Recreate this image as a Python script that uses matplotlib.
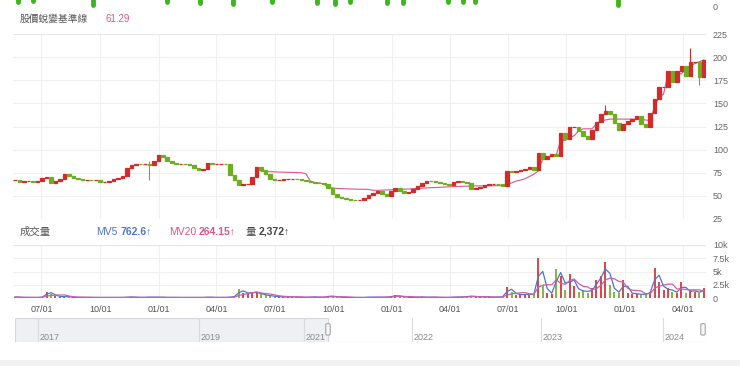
import numpy as np
import pandas as pd
import matplotlib
matplotlib.use('Agg')
import matplotlib.pyplot as plt
from matplotlib.patches import Rectangle, FancyBboxPatch

plt.rcParams['font.family'] = ['Liberation Sans', 'Noto Sans CJK TC', 'DejaVu Sans']

W, H = 740, 366

# weekly samples
week_dates = pd.date_range('2021-05-21', periods=155, freq='W-FRI')

close = [67, 64.5, 66, 66, 65, 66, 69, 70, 64, 65.7,
         68.5, 73.6, 71, 69, 68, 67.5, 67.5, 67, 67, 65,
         65, 66, 68, 69.5, 72, 80, 83, 84.5, 84, 84,
         83, 88, 94, 92, 88, 86, 85, 85, 84.5, 83,
         80, 78.5, 78.6, 86, 84.5, 84.5, 84.5, 84, 73, 67.5,
         62, 62.5, 63, 70, 81, 78, 73.5, 68, 67.4, 67.4,
         68, 68.5, 68.5, 68, 67, 66, 64.5, 64, 63.5, 63,
         58, 52, 49, 47.5, 46.4, 46, 45.4, 46, 48, 51,
         53, 55.4, 51.5, 50, 55, 58, 55.5, 52.6, 54.5, 57,
         61, 64, 66.5, 66, 65, 63.5, 62.5, 62, 65, 66.5,
         64.5, 63.6, 57.5, 58.5, 60, 61.5, 63, 63, 62.7, 61,
         77, 75.5, 76.5, 78, 79.5, 81, 78, 96, 90, 93,
         95, 93.5, 118, 111, 124, 124, 120, 115, 111, 121,
         130, 139, 142, 139, 129, 121, 128, 131, 133, 136,
         128, 125, 140, 155, 168, 168, 185, 173, 185, 190,
         180, 195, 195, 178, 197]

# a few long wicks
wick_idx = [30, 132, 151, 153]
wick_low = [67, 139, 190, 170]
wick_high = [88, 148, 210, 180]

baseline = [np.nan] * 55 + [
    76.5, 76.3, 76.2, 76, 75.8, 75.6, 75.5, 75.3, 75.2, 75,
    74, 66, 64.5, 64, 63, 59, 58.5, 58, 57.8, 57.5,
    57.4, 57.3, 57.2, 57.1, 57, 56, 56, 56.2, 56.4, 56.6,
    56.8, 57, 57.2, 57.4, 57.8, 58, 58.3, 58.6, 58.9, 59,
    59.3, 59.6, 59.8, 60, 60.2, 60.4, 60.6, 60.7, 60.8, 60.9,
    61, 61, 61, 61, 61, 62, 64, 66, 67, 68.5,
    71, 73.5, 77, 90, 91.6, 93, 94, 110, 110, 113,
    115, 120, 122.5, 122.5, 122.5, 128, 131.5, 132, 133, 133,
    133, 133, 133, 133, 133, 133, 132, 131.5, 146, 157,
    160, 182, 182, 182, 182, 187, 191, 193, 195, 197]

volume_k = [0.2, 0.1, 0.1, 0.1, 0.1, 0.1, 0.2, 1.2, 0.8, 0.4,
            0.2, 0.3, 0.2, 0.1, 0.1, 0.1, 0.1, 0.1, 0.1, 0.1,
            0.1, 0.1, 0.1, 0.1, 0.1, 0.2, 0.2, 0.1, 0.1, 0.1,
            0.2, 0.1, 0.2, 0.1, 0.1, 0.1, 0.1, 0.1, 0.1, 0.1,
            0.1, 0.1, 0.1, 0.2, 0.1, 0.1, 0.1, 0.1, 0.2, 0.3,
            1.7, 1.0, 0.9, 1.1, 1.0, 0.7, 0.5, 0.4, 0.3, 0.2,
            0.2, 0.2, 0.2, 0.2, 0.1, 0.1, 0.2, 0.2, 0.1, 0.2,
            0.4, 0.3, 0.2, 0.1, 0.1, 0.1, 0.1, 0.1, 0.1, 0.2,
            0.1, 0.2, 0.1, 0.2, 0.3, 0.5, 0.3, 0.2, 0.1, 0.1,
            0.2, 0.2, 0.1, 0.2, 0.1, 0.1, 0.1, 0.1, 0.2, 0.2,
            0.2, 0.3, 0.4, 0.2, 0.2, 0.2, 0.2, 0.1, 0.2, 0.3,
            2.1, 1.2, 0.6, 0.7, 0.6, 0.8, 0.7, 7.5, 2.5, 1.0,
            0.8, 5.4, 4.2, 1.5, 4.5, 2.3, 1.2, 1.5, 1.0, 1.8,
            3.4, 4.2, 6.8, 2.5, 1.2, 1.0, 3.4, 1.0, 0.8, 0.8,
            0.6, 0.8, 1.2, 5.6, 3.0, 1.5, 1.8, 1.2, 1.0, 3.0,
            1.0, 1.5, 1.2, 1.0, 1.8]

price_ticks = [25, 50, 75, 100, 125, 150, 175, 200, 225]
vol_ticks = [0, 2.5, 5, 7.5, 10]
vol_tick_labels = ['0', '2.5k', '5k', '7.5k', '10k']

# green marks hanging from the panel above (index position, depth in px)
top_blob_idx = [0.7, 4, 17.4, 34, 41.4, 48.8, 57.5, 67.6, 71.6, 74.9, 83.2, 86.8, 96.9, 100.2, 102.9, 134.9]
top_blob_depth = [2, 1, 5, 2, 3, 4, 2, 3, 4, 2, 3, 3, 2, 2, 2, 5]

slider_years = ['2017', '2019', '2021', '2022', '2023', '2024']
slider_year_pos = [23, 184, 289, 397, 526, 648]
slider_sel_start = 313

RED = '#d42a2a'
GREEN = '#6fae22'
PINK = '#d9578a'
BLUE = '#4f74d0'
GRID = '#f0f0f0'
TXT = '#666666'


def px_axes(fig, l, t, r, b):
    return fig.add_axes([l / W, 1 - b / H, (r - l) / W, (b - t) / H])


def clean(ax):
    for s in ax.spines.values():
        s.set_visible(False)
    ax.tick_params(length=0)


fig = plt.figure(figsize=(W / 100, H / 100), dpi=100)

n = len(close)
x = np.arange(n)
close_a = np.array(close, dtype=float)
open_a = np.concatenate([[close_a[0]], close_a[:-1]])
up = close_a >= open_a
cols = np.where(up, RED, GREEN)

qdates = pd.date_range('2021-07-01', '2024-04-01', freq='QS')
qpos = [(d - week_dates[0]).days / 7 for d in qdates]
qlabels = [d.strftime('%m/%d') for d in qdates]

# price panel
ax = px_axes(fig, 13, 34, 706, 219)
clean(ax)
ax.set_xlim(-0.5, n - 0.5)
ax.set_ylim(25, 225)
ax.set_yticks(price_ticks)
ax.yaxis.tick_right()
ax.tick_params(axis='y', labelsize=6.5, labelcolor=TXT, pad=5)
ax.set_xticks(qpos)
ax.set_xticklabels([])
ax.grid(True, color=GRID, lw=0.8)
ax.set_axisbelow(True)
ax.axhline(225, color='#e6e6e6', lw=0.8)
ax.vlines(wick_idx, wick_low, wick_high, colors=[cols[i] for i in wick_idx], lw=0.8, zorder=2)
ax.bar(x, close_a - open_a, bottom=open_a, width=0.8, color=cols, edgecolor=cols, lw=0.9, zorder=3)
ax.plot(x, baseline, color=PINK, lw=0.8, zorder=2)

# volume panel
av = px_axes(fig, 13, 245, 706, 298)
clean(av)
av.set_xlim(-0.5, n - 0.5)
av.set_ylim(0, 10)
av.set_yticks(vol_ticks)
av.set_yticklabels(vol_tick_labels)
av.yaxis.tick_right()
av.tick_params(axis='y', labelsize=6.5, labelcolor=TXT, pad=5)
av.set_xticks(qpos)
av.set_xticklabels(qlabels)
av.tick_params(axis='x', labelsize=6.5, labelcolor='#555555', pad=5)
av.grid(True, color=GRID, lw=0.8)
av.set_axisbelow(True)
av.axhline(10, color='#e6e6e6', lw=0.8)
av.bar(x, volume_k, width=0.45, color=cols, alpha=0.85, zorder=3)
vol_s = pd.Series(volume_k)
av.plot(x, vol_s.rolling(2, min_periods=1).mean(), color=BLUE, lw=0.9, zorder=4)
av.plot(x, vol_s.rolling(5, min_periods=1).mean(), color='#cc5fa8', lw=0.9, zorder=4)

# strip from the panel above
at = px_axes(fig, 13, 0, 706, 10)
at.axis('off')
at.set_xlim(-0.5, n - 0.5)
at.set_ylim(10, 0)
for bx, bd in zip(top_blob_idx, top_blob_depth):
    at.plot([bx, bx], [-2, bd], color='#3db51c', lw=3.5, solid_capstyle='round', clip_on=False)
fig.text(713 / W, 1 - 7 / H, '0', fontsize=6.5, color=TXT, va='center')


def chained_texts(x0, y0, parts, size):
    # each piece starts right after the previous one
    prev = fig.text(x0 / W, 1 - y0 / H, parts[0][0], fontsize=size, color=parts[0][1],
                    fontweight=parts[0][2], va='center')
    for s, c, w, gap in parts[1:]:
        prev = ax.annotate(s, xy=(1, 0.5), xycoords=prev, xytext=(gap, 0), textcoords='offset points',
                           fontsize=size, color=c, fontweight=w, va='center', ha='left',
                           annotation_clip=False)


fig.text(20 / W, 1 - 19 / H, '股價蛻變基準線', fontsize=7, color='#555555', va='center')
fig.text(105 / W, 1 - 19 / H, '61.29', fontsize=7, color=PINK, va='center')
fig.text(20 / W, 1 - 232 / H, '成交量', fontsize=7.5, color='#555555', va='center')
chained_texts(96, 232, [('MV5', BLUE, 'normal', 0), ('762.6↑', BLUE, 'bold', 2)], 7.5)
chained_texts(169, 232, [('MV20', PINK, 'normal', 0), ('264.15↑', PINK, 'bold', 2)], 7.5)
chained_texts(245, 232, [('量', '#444444', 'normal', 0), ('2,372↑', '#444444', 'bold', 2)], 7.5)

# range slider
asl = px_axes(fig, 15, 318, 705, 342)
asl.axis('off')
asl.set_xlim(0, 690)
asl.set_ylim(0, 1)
asl.add_patch(Rectangle((0, 0), slider_sel_start, 1, facecolor='#eef0f3', edgecolor='#d3d6da', lw=0.8))
asl.plot([slider_sel_start, 690, 690], [0, 0, 1], color='#d3d6da', lw=0.8)
for yl, yp in zip(slider_years, slider_year_pos):
    asl.plot([yp, yp], [0, 1], color='#d8dbdf', lw=0.8)
    asl.text(yp + 2, 0.2, yl, fontsize=6.5, color='#8a8a8a', va='center')
for hx in [slider_sel_start, 688]:
    asl.add_patch(FancyBboxPatch((hx - 2, 0.3), 4, 0.45, boxstyle='round,pad=0.2,rounding_size=1',
                                 mutation_aspect=0.05, facecolor='#f7f7f7', edgecolor='#9a9a9a', lw=0.7,
                                 clip_on=False, zorder=5))

# page strip at the bottom
fig.patches.append(Rectangle((0, 0), 1, 6 / H, transform=fig.transFigure, facecolor='#f2f2f2',
                             edgecolor='none'))

fig.savefig('out.png', dpi=100)
